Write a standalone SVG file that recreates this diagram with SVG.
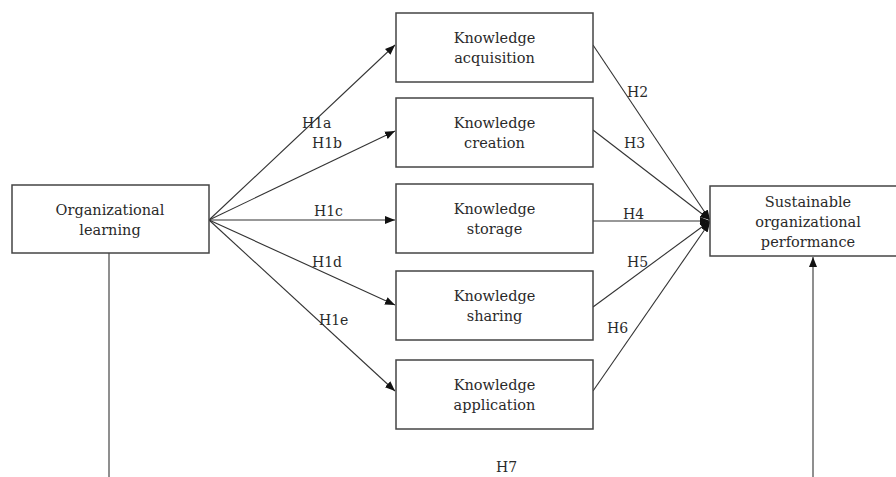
<svg xmlns="http://www.w3.org/2000/svg" width="896" height="477" viewBox="0 0 896 477">
<defs>
<marker id="arr" viewBox="0 0 10 10" refX="10" refY="5" markerWidth="10" markerHeight="10" markerUnits="userSpaceOnUse" orient="auto">
<path d="M0,1 L10,5 L0,9 Z" fill="#111"/>
</marker>
</defs>
<style>
.box{fill:#fff;stroke:#444;stroke-width:1.5}
.t{font-family:"DejaVu Serif","Liberation Serif",serif;font-size:14.5px;fill:#2a2a2a;text-anchor:middle}
.lbl{font-family:"DejaVu Serif","Liberation Serif",serif;font-size:14px;fill:#2a2a2a}
.c{stroke:#333;stroke-width:1.1;fill:none}
</style>
<rect width="896" height="477" fill="#fff"/>
<g id="connectors">
<line class="c" x1="209" y1="220" x2="395" y2="45" marker-end="url(#arr)"/>
<line class="c" x1="209" y1="220" x2="395" y2="131" marker-end="url(#arr)"/>
<line class="c" x1="209" y1="220" x2="395" y2="220" marker-end="url(#arr)"/>
<line class="c" x1="209" y1="220" x2="395" y2="305" marker-end="url(#arr)"/>
<line class="c" x1="209" y1="220" x2="395" y2="391" marker-end="url(#arr)"/>
<line class="c" x1="593" y1="45" x2="710" y2="220" marker-end="url(#arr)"/>
<line class="c" x1="593" y1="130" x2="710" y2="220" marker-end="url(#arr)"/>
<line class="c" x1="593" y1="221" x2="710" y2="221" marker-end="url(#arr)"/>
<line class="c" x1="593" y1="307" x2="710" y2="221" marker-end="url(#arr)"/>
<line class="c" x1="593" y1="391" x2="710" y2="222" marker-end="url(#arr)"/>
<line class="c" x1="109" y1="253" x2="109" y2="477"/>
<line class="c" x1="813" y1="477" x2="813" y2="257" marker-end="url(#arr)"/>
<text class="lbl" x="302" y="128">H1a</text>
<text class="lbl" x="312" y="148">H1b</text>
<text class="lbl" x="314" y="216">H1c</text>
<text class="lbl" x="312" y="267">H1d</text>
<text class="lbl" x="319" y="325">H1e</text>
<text class="lbl" x="627" y="97">H2</text>
<text class="lbl" x="624" y="148">H3</text>
<text class="lbl" x="623" y="219">H4</text>
<text class="lbl" x="627" y="267">H5</text>
<text class="lbl" x="607" y="333">H6</text>
<text class="lbl" x="496" y="472">H7</text>
</g>
<g id="ol">
<rect class="box" x="12" y="185" width="197" height="68"/>
<text class="t" x="110" y="215">Organizational</text>
<text class="t" x="110" y="235">learning</text>
</g>
<g id="ka">
<rect class="box" x="396" y="13" width="197" height="69"/>
<text class="t" x="494.5" y="43">Knowledge</text>
<text class="t" x="494.5" y="63">acquisition</text>
</g>
<g id="kc">
<rect class="box" x="396" y="98" width="197" height="69"/>
<text class="t" x="494.5" y="128">Knowledge</text>
<text class="t" x="494.5" y="148">creation</text>
</g>
<g id="ks">
<rect class="box" x="396" y="184" width="197" height="69"/>
<text class="t" x="494.5" y="214">Knowledge</text>
<text class="t" x="494.5" y="234">storage</text>
</g>
<g id="ksh">
<rect class="box" x="396" y="271" width="197" height="69"/>
<text class="t" x="494.5" y="301">Knowledge</text>
<text class="t" x="494.5" y="321">sharing</text>
</g>
<g id="kap">
<rect class="box" x="396" y="360" width="197" height="69"/>
<text class="t" x="494.5" y="390">Knowledge</text>
<text class="t" x="494.5" y="410">application</text>
</g>
<g id="sop">
<rect class="box" x="710" y="186" width="196" height="70"/>
<text class="t" x="808" y="207">Sustainable</text>
<text class="t" x="808" y="227">organizational</text>
<text class="t" x="808" y="247">performance</text>
</g>
</svg>
